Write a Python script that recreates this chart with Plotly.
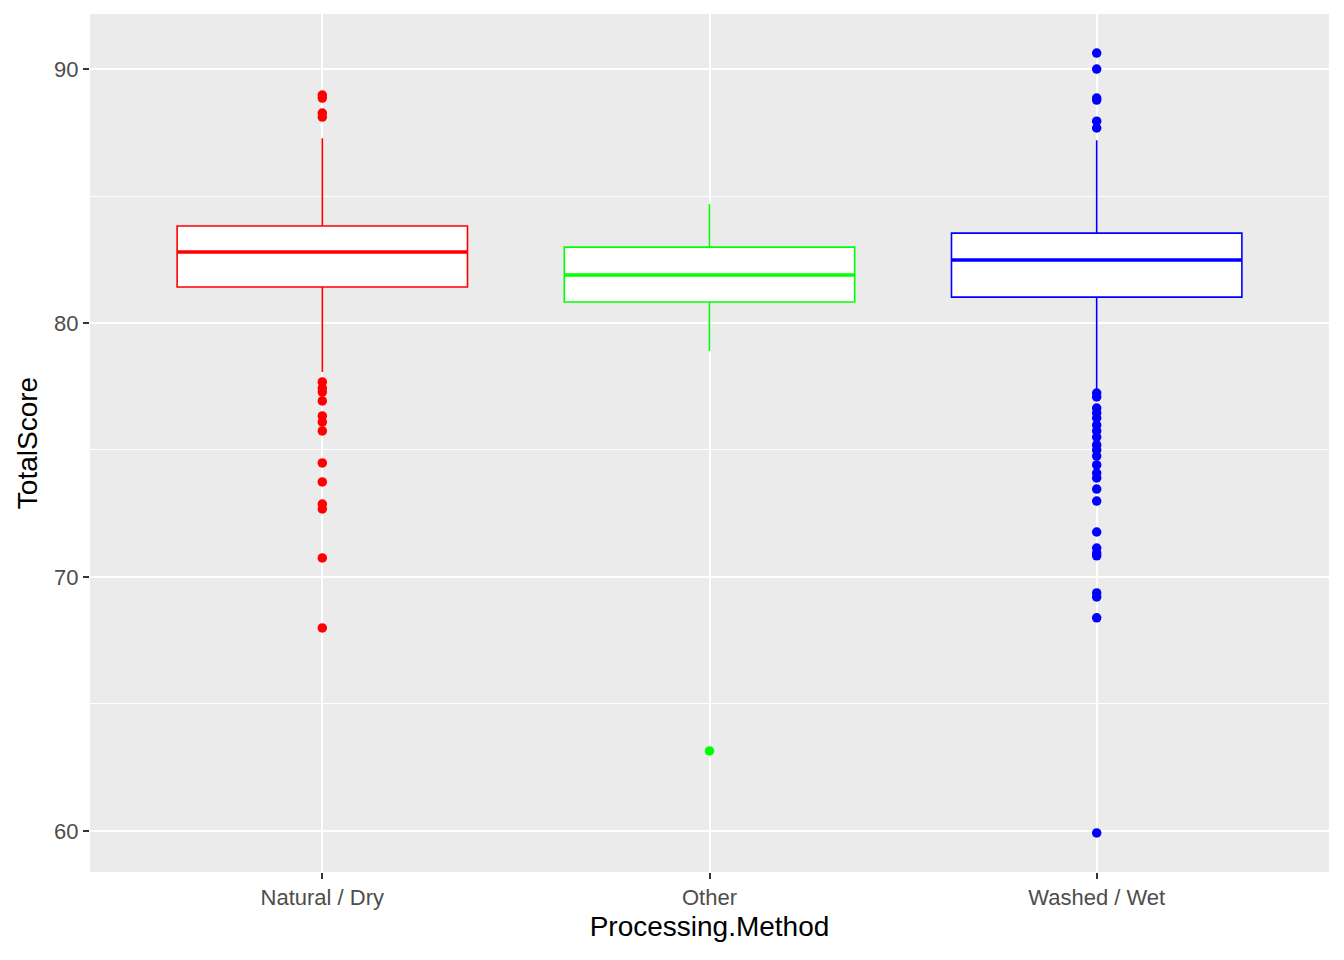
import plotly.graph_objects as go

categories = ["Natural / Dry", "Other", "Washed / Wet"]
colors = ["#FF0000", "#00FF00", "#0000FF"]
q1 = [81.42, 80.83, 81.02]
median = [82.80, 81.89, 82.48]
q3 = [83.82, 82.99, 83.54]
lower_fence = [78.07, 78.90, 77.30]
upper_fence = [87.28, 84.69, 87.20]

outliers_natural = [88.98, 88.86, 88.27, 88.11, 77.68, 77.44, 77.28, 76.93, 76.34,
                    76.10, 75.75, 74.49, 73.74, 72.87, 72.68, 70.75, 67.99]
outliers_other = [63.15]
outliers_washed = [90.63, 90.00, 88.86, 88.78, 87.95, 87.68, 77.24, 77.09, 76.65,
                   76.46, 76.26, 75.98, 75.75, 75.51, 75.20, 75.00, 74.76, 74.41,
                   74.09, 73.90, 73.46, 72.99, 71.77, 71.14, 70.94, 70.83, 69.37,
                   69.21, 68.39, 59.92]
outliers = [outliers_natural, outliers_other, outliers_washed]

box_width = 0.75
xpos = [1, 2, 3]

fig = go.Figure()
for i, cat in enumerate(categories):
    fig.add_trace(go.Box(
        x=[xpos[i]], q1=[q1[i]], median=[median[i]], q3=[q3[i]],
        lowerfence=[lower_fence[i]], upperfence=[upper_fence[i]],
        width=box_width, whiskerwidth=0, fillcolor="white",
        line=dict(color=colors[i], width=1.6), boxpoints=False,
        showlegend=False, hoverinfo="skip",
    ))
    fig.add_trace(go.Scatter(
        x=[xpos[i] - box_width / 2, xpos[i] + box_width / 2],
        y=[median[i], median[i]], mode="lines",
        line=dict(color=colors[i], width=3.5), showlegend=False, hoverinfo="skip",
    ))
    fig.add_trace(go.Scatter(
        x=[xpos[i]] * len(outliers[i]), y=outliers[i], mode="markers",
        marker=dict(color=colors[i], size=9.5, line=dict(width=0)),
        showlegend=False,
    ))

fig.update_layout(
    width=1344, height=960,
    margin=dict(l=82, r=23, t=6, b=96),
    paper_bgcolor="white", plot_bgcolor="#EBEBEB",
    font=dict(family="Arial, Liberation Sans, sans-serif"),
    xaxis=dict(
        range=[0.4, 3.6], tickvals=xpos, ticktext=categories,
        showgrid=True, gridcolor="white", gridwidth=1.6, zeroline=False,
        ticks="outside", ticklen=6, tickcolor="#333333", tickwidth=1.5,
        tickfont=dict(size=22, color="#4D4D4D"),
        title=dict(text="Processing.Method", font=dict(size=28, color="black"), standoff=6),
    ),
    yaxis=dict(
        range=[58.38, 92.17], tickvals=[60, 70, 80, 90],
        showgrid=True, gridcolor="white", gridwidth=1.6, zeroline=False,
        minor=dict(tickvals=[65, 75, 85], showgrid=True, gridcolor="white", gridwidth=0.8),
        ticks="outside", ticklen=6, tickcolor="#333333", tickwidth=1.5,
        tickfont=dict(size=22, color="#4D4D4D"),
        title=dict(text="TotalScore", font=dict(size=28, color="black"), standoff=8),
    ),
)

fig.write_html("out.html")
